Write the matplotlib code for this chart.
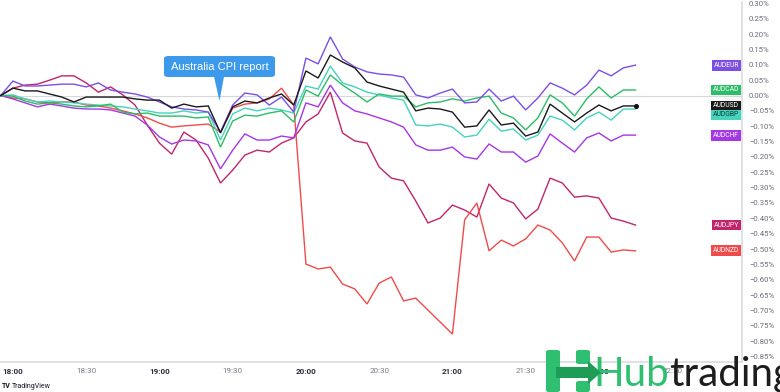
import numpy as np
import matplotlib
matplotlib.use("Agg")
import matplotlib.pyplot as plt
from matplotlib.patches import FancyBboxPatch, Polygon
import matplotlib.transforms as mtransforms

# ---------------- data ----------------
# time in minutes relative to 18:00 (5-minute bars, 17:55 .. 22:15)
minutes = list(range(-5, 260, 5))

audusd = [0.000, 0.024, 0.015, 0.015, 0.005, -0.005, -0.021, -0.005, -0.005, -0.005, -0.005, -0.011, -0.015,
          -0.015, -0.041, -0.028, -0.037, -0.034, -0.122, -0.037, -0.018, -0.024, -0.008, 0.005, -0.031,
          0.080, 0.057, 0.132, 0.109, 0.090, 0.044, 0.031, 0.021, 0.011, -0.050, -0.041, -0.044, -0.054,
          -0.103, -0.099, -0.047, -0.096, -0.090, -0.132, -0.119, -0.028, -0.057, -0.086, -0.057, -0.031,
          -0.050, -0.034, -0.034]
audeur = [0.000, 0.047, 0.031, 0.031, 0.034, 0.037, 0.037, 0.028, 0.041, 0.018, 0.011, 0.005, -0.005,
          -0.021, -0.037, -0.044, -0.047, -0.054, -0.119, -0.031, 0.008, 0.002, -0.031, -0.005, -0.054,
          0.122, 0.103, 0.191, 0.119, 0.093, 0.077, 0.070, 0.067, 0.060, 0.002, -0.008, 0.008, 0.021,
          -0.024, -0.021, 0.021, -0.018, -0.002, -0.047, -0.008, 0.041, 0.024, 0.002, 0.034, 0.083,
          0.064, 0.090, 0.099]
audcad = [0.000, -0.002, -0.018, -0.028, -0.024, -0.028, -0.034, -0.037, -0.034, -0.028, -0.054, -0.060, -0.057,
          -0.067, -0.067, -0.067, -0.073, -0.070, -0.168, -0.083, -0.064, -0.067, -0.057, -0.050, -0.086,
          0.018, -0.002, 0.067, 0.034, 0.008, -0.021, 0.005, -0.002, -0.002, -0.037, -0.024, -0.021, -0.011,
          -0.018, -0.008, -0.002, -0.057, -0.073, -0.112, -0.073, 0.002, -0.024, -0.067, -0.011, 0.028,
          -0.008, 0.018, 0.018]
audgbp = [0.000, 0.002, -0.011, -0.021, -0.018, -0.021, -0.024, -0.028, -0.031, -0.034, -0.037, -0.044, -0.050,
          -0.057, -0.057, -0.050, -0.057, -0.054, -0.145, -0.060, -0.041, -0.050, -0.041, -0.047, -0.057,
          0.031, 0.021, 0.096, 0.041, 0.028, 0.011, 0.002, -0.008, -0.015, -0.096, -0.099, -0.093, -0.103,
          -0.135, -0.129, -0.077, -0.116, -0.109, -0.145, -0.129, -0.067, -0.080, -0.112, -0.073, -0.054,
          -0.080, -0.044, -0.044]
audchf = [0.000, -0.011, -0.024, -0.037, -0.028, -0.034, -0.041, -0.044, -0.044, -0.047, -0.057, -0.067, -0.096,
          -0.135, -0.158, -0.145, -0.148, -0.161, -0.239, -0.178, -0.125, -0.145, -0.145, -0.132, -0.138,
          -0.024, -0.037, 0.034, -0.024, -0.050, -0.060, -0.073, -0.086, -0.103, -0.161, -0.178, -0.178, -0.168,
          -0.200, -0.207, -0.158, -0.184, -0.184, -0.217, -0.197, -0.125, -0.155, -0.184, -0.138, -0.122,
          -0.148, -0.129, -0.129]
audjpy = [0.000, 0.024, 0.034, 0.037, 0.050, 0.064, 0.064, 0.041, 0.011, 0.028, 0.002, -0.031, -0.096,
          -0.155, -0.191, -0.119, -0.145, -0.204, -0.285, -0.243, -0.194, -0.178, -0.184, -0.155, -0.138,
          -0.086, -0.060, 0.011, -0.122, -0.148, -0.155, -0.233, -0.269, -0.278, -0.344, -0.415, -0.399, -0.357,
          -0.373, -0.396, -0.288, -0.334, -0.350, -0.402, -0.370, -0.269, -0.285, -0.331, -0.327, -0.334,
          -0.399, -0.409, -0.422]
audnzd = [0.000, -0.008, -0.011, -0.021, -0.024, -0.021, -0.021, -0.031, -0.034, -0.041, -0.050, -0.060, -0.073,
          -0.090, -0.103, -0.099, -0.096, -0.093, -0.119, -0.041, -0.028, -0.024, -0.011, 0.024, -0.031,
          -0.549, -0.565, -0.559, -0.614, -0.630, -0.679, -0.611, -0.591, -0.669, -0.660, -0.699, -0.738, -0.777,
          -0.405, -0.350, -0.506, -0.471, -0.490, -0.467, -0.422, -0.438, -0.480, -0.539, -0.461, -0.461,
          -0.510, -0.503, -0.506]

series_names = ["AUDJPY", "AUDNZD", "AUDCHF", "AUDGBP", "AUDCAD", "AUDEUR", "AUDUSD"]
series_values = [audjpy, audnzd, audchf, audgbp, audcad, audeur, audusd]
series_colors = ["#c2256b", "#ef4b4b", "#a537e6", "#45d3bd", "#2bbd67", "#7b4fe6", "#1a1a1a"]
label_text_colors = ["white", "white", "white", "#0a3d35", "white", "white", "white"]

xtick_minutes = [0, 30, 60, 90, 120, 150, 180, 210, 240, 270]
xtick_labels = ["18:00", "18:30", "19:00", "19:30", "20:00", "20:30", "21:00", "21:30", "22:00", "22:30"]
ytick_values = [0.30, 0.25, 0.20, 0.15, 0.10, 0.05, 0.00, -0.05, -0.10, -0.15, -0.20, -0.25, -0.30,
                -0.35, -0.40, -0.45, -0.50, -0.55, -0.60, -0.65, -0.70, -0.75, -0.80, -0.85]

annotation_text = "Australia CPI report"

# ---------------- figure ----------------
plt.rcParams["font.family"] = ["Roboto", "DejaVu Sans"]
W, H = 780, 392
fig = plt.figure(figsize=(W / 100, H / 100), dpi=100)
fig.patch.set_facecolor("white")

ax = fig.add_axes([0, 30 / H, 742 / W, 360 / H])
ax.set_facecolor("white")

ax.axhline(0, color="#d6d8de", lw=0.8, zorder=0)
for name, vals, col in zip(series_names, series_values, series_colors):
    ax.plot(minutes, vals, color=col, lw=1.0, solid_joinstyle="miter", zorder=2)
ax.plot(minutes[-1], audusd[-1], "o", color="#111111", ms=2.6, zorder=4)

ax.set_xlim(-5.3, 298.6)
ax.set_ylim(-0.868, 0.3046)

ax.yaxis.tick_right()
ax.set_yticks(ytick_values)
ax.set_yticklabels([(f"{v:.2f}%").replace("-", "\u2212") for v in ytick_values])
ax.set_xticks(xtick_minutes)
ax.set_xticklabels(xtick_labels)
ax.tick_params(axis="y", length=0, labelsize=5.6, labelcolor="#6a6d78", pad=5)
ax.tick_params(axis="x", length=0, labelsize=5.8, labelcolor="#787b86", pad=4)
for lbl in ax.get_xticklabels():
    if lbl.get_text().endswith(":00"):
        lbl.set_fontweight("bold")
        lbl.set_color("#2a2e39")

for s in ["left", "top"]:
    ax.spines[s].set_visible(False)
for s in ["right", "bottom"]:
    ax.spines[s].set_color("#d9dbe0")
    ax.spines[s].set_linewidth(1.2)

# ---------------- right-side labels ----------------
px_per_unit = 360 / (0.3046 + 0.868)
gap = 9.0 / px_per_unit
order = sorted(range(len(series_names)), key=lambda i: -series_values[i][-1])
label_y = {}
prev = None
for i in order:
    y = series_values[i][-1]
    if prev is not None and y > prev - gap:
        y = prev - gap
    label_y[i] = y
    prev = y
trans = mtransforms.blended_transform_factory(ax.transAxes, ax.transData)
for i in order:
    ax.annotate(series_names[i], xy=(1.0, label_y[i]), xycoords=trans,
                xytext=(-2.2, 0), textcoords="offset points",
                ha="right", va="center", fontsize=4.9, color=label_text_colors[i],
                bbox=dict(boxstyle="square,pad=0.28", fc=series_colors[i], ec="none"),
                zorder=6, annotation_clip=False)

# ---------------- callout ----------------
def fx(px):
    return px / W

def fy(py):
    return 1 - py / H

callout_color = "#3d9aeb"
box = FancyBboxPatch((fx(164), fy(77)), fx(275) - fx(164), fy(56) - fy(77),
                     boxstyle="round,pad=0,rounding_size=0.006",
                     transform=fig.transFigure, fc=callout_color, ec="none", zorder=10)
fig.patches.append(box)
tri = Polygon([(fx(214), fy(76.5)), (fx(224), fy(76.5)), (fx(219.5), fy(101))],
              closed=True, transform=fig.transFigure, fc=callout_color, ec="none", zorder=10)
fig.patches.append(tri)
fig.text(fx(219.5), fy(67), annotation_text, ha="center", va="center", color="white",
         fontsize=8.0, family=["Liberation Sans", "DejaVu Sans"], zorder=11)

# ---------------- bottom branding ----------------
fig.text(fx(2), fy(386), "TV", fontsize=5, fontweight="bold", color="#131722", va="center", ha="left")
fig.text(fx(12), fy(386), "TradingView", fontsize=5, color="#131722", va="center", ha="left")

# logo icon (green H with arrow)
green_dark = "#1f9d57"
green = "#2fbf71"
icon = [
    FancyBboxPatch((fx(546), fy(392)), fx(560) - fx(546), fy(350) - fy(392),
                   boxstyle="round,pad=0,rounding_size=0.004", transform=fig.transFigure,
                   fc=green, ec="none", zorder=12),
    FancyBboxPatch((fx(576), fy(364)), fx(590) - fx(576), fy(350) - fy(364),
                   boxstyle="round,pad=0,rounding_size=0.004", transform=fig.transFigure,
                   fc=green, ec="none", zorder=12),
    FancyBboxPatch((fx(576), fy(392)), fx(590) - fx(576), fy(381) - fy(392),
                   boxstyle="round,pad=0,rounding_size=0.004", transform=fig.transFigure,
                   fc=green, ec="none", zorder=12),
    Polygon([(fx(556), fy(367)), (fx(588), fy(367)), (fx(588), fy(361)), (fx(601), fy(372.5)),
             (fx(588), fy(384)), (fx(588), fy(378)), (fx(556), fy(378))],
            closed=True, transform=fig.transFigure, fc=green_dark, ec="none", zorder=13),
]
for p in icon:
    fig.patches.append(p)

t1 = fig.text(fx(593), fy(386), "Hub", fontsize=29, color="#2fbf71", ha="left", va="baseline",
              family=["Lato", "DejaVu Sans"], zorder=12)
fig.canvas.draw()
bb = t1.get_window_extent()
fig.text(bb.x1 / W, fy(386), "trading", fontsize=29, color="#1d1d1d", ha="left", va="baseline",
         family=["Lato", "DejaVu Sans"], zorder=12)

fig.savefig("out.png", dpi=100, facecolor="white")
